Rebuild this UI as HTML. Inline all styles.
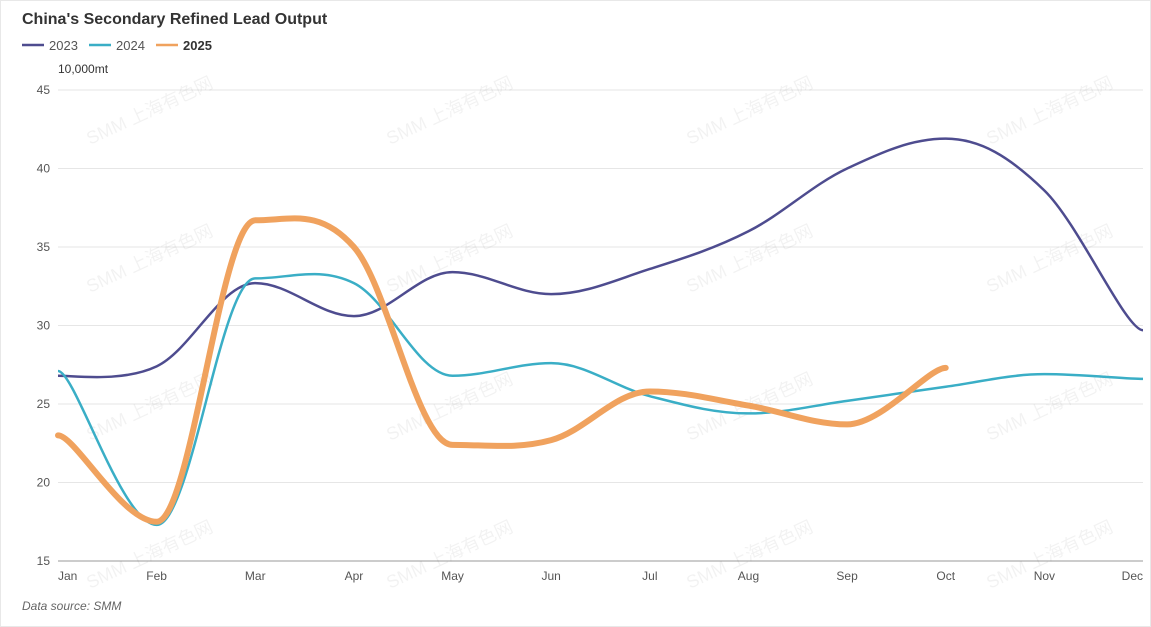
<!DOCTYPE html>
<html><head><meta charset="utf-8"><style>
body{margin:0;background:#fff;font-family:"Liberation Sans","Noto Sans CJK SC",sans-serif;}
#wrap{position:relative;width:1151px;height:627px;overflow:hidden;}
</style></head><body><div id="wrap">
<svg id="s" width="1151" height="627" xmlns="http://www.w3.org/2000/svg" font-family="Liberation Sans, Noto Sans CJK SC, sans-serif">
<rect x="0.5" y="0.5" width="1150" height="626" fill="#fff" stroke="#e8e8e8"/>
<text x="22" y="24" font-size="16" font-weight="bold" fill="#333">China's Secondary Refined Lead Output</text>
<line x1="22" y1="45" x2="44" y2="45" stroke="#4e4c8f" stroke-width="2.5"/><text x="49" y="50" font-size="13" fill="#555">2023</text>
<line x1="89" y1="45" x2="111" y2="45" stroke="#3aaec6" stroke-width="2.5"/><text x="116" y="50" font-size="13" fill="#555">2024</text>
<line x1="156" y1="45" x2="178" y2="45" stroke="#f0a25e" stroke-width="2.5"/><text x="183" y="50" font-size="13" font-weight="bold" fill="#333">2025</text>
<text x="58" y="73" font-size="12" fill="#333">10,000mt</text>
<g id="grid"></g>
<g id="wm" font-size="18" fill="#000" fill-opacity="0.05"></g>
<g id="lines"></g>
<text x="22" y="610" font-size="12" font-style="italic" fill="#666">Data source:  SMM</text>
</svg>
<script>
const s=document.getElementById('s'),NS='http://www.w3.org/2000/svg';
function el(p,t,a,txt){const e=document.createElementNS(NS,t);for(const k in a)e.setAttribute(k,a[k]);if(txt!=null)e.textContent=txt;document.getElementById(p).appendChild(e);}
const X=i=>58+i*(1143-58)/11, Y=v=>561-(v-15)*(471/30);
for(let v=15;v<=45;v+=5){el('grid','line',{x1:58,x2:1143,y1:Y(v),y2:Y(v),stroke:v==15?'#999':'#e6e6e6'});el('grid','text',{x:50,y:Y(v)+4,'text-anchor':'end','font-size':12,fill:'#555'},v);}
const m=['Jan','Feb','Mar','Apr','May','Jun','Jul','Aug','Sep','Oct','Nov','Dec'];
m.forEach((t,i)=>{let x=X(i);el('grid','text',{x:i==0?58:i==11?1143:x,y:580,'text-anchor':i==0?'start':i==11?'end':'middle','font-size':12,fill:'#555'},t);});
for(let r=0;r<4;r++)for(let c=0;c<4;c++){let x=90+c*300,y=145+r*148;el('wm','text',{x:x,y:y,transform:`rotate(-25 ${x} ${y})`},'SMM 上海有色网');}
function path(d){const p=d.map((v,i)=>[X(i),Y(v)]);let s='M'+p[0];const k=0.35;
for(let i=0;i<p.length-1;i++){const p0=p[i-1]||p[i],p1=p[i],p2=p[i+1],p3=p[i+2]||p2;
const c1=[p1[0]+(p2[0]-p0[0])*k/2*1,p1[1]+(p2[1]-p0[1])*k/2],c2=[p2[0]-(p3[0]-p1[0])*k/2,p2[1]-(p3[1]-p1[1])*k/2];
// flatten at extrema
if((p1[1]-p0[1])*(p2[1]-p1[1])<=0)c1[1]=p1[1];
if((p2[1]-p1[1])*(p3[1]-p2[1])<=0)c2[1]=p2[1];
s+=`C${c1} ${c2} ${p2}`;}return s;}
const d23=[26.8,27.4,32.7,30.6,33.4,32.0,33.6,36.0,40.0,41.9,38.6,29.7];
const d24=[27.1,17.3,33.0,32.7,26.8,27.6,25.5,24.4,25.2,26.1,26.9,26.6];
const d25=[23.0,17.5,36.7,35.0,22.4,22.7,25.8,24.9,23.7,27.3];
el('lines','path',{d:path(d23),fill:'none',stroke:'#4e4c8f','stroke-width':2.5});
el('lines','path',{d:path(d24),fill:'none',stroke:'#3aaec6','stroke-width':2.5});
el('lines','path',{d:path(d25),fill:'none',stroke:'#f0a25e','stroke-width':6,'stroke-linecap':'round'});
</script>
</div></body></html>
